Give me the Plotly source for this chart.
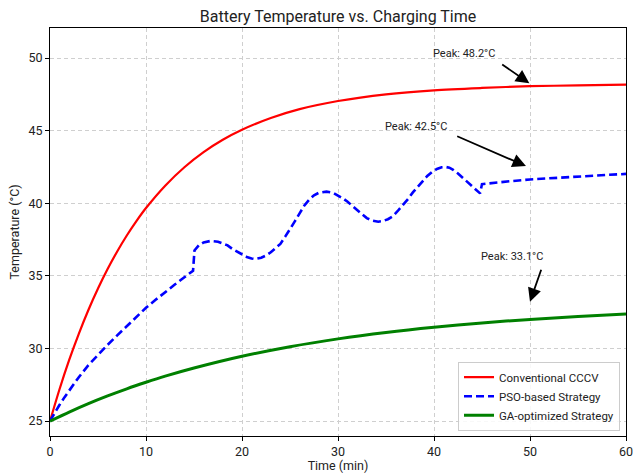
import plotly.graph_objects as go

# ---- data ----
red_t = [0, 1, 2, 3, 4, 5, 6, 7, 8, 9, 10, 12, 14, 16, 18, 20, 23, 26, 30, 35, 40, 45, 50, 55, 60]
red_T = [25.0, 27.21, 29.21, 31.01, 32.65, 34.13, 35.47, 36.68, 37.78, 38.77, 39.67, 41.21, 42.48,
         43.52, 44.37, 45.06, 45.87, 46.48, 47.04, 47.5, 47.78, 47.94, 48.06, 48.12, 48.17]

blue_t = [0, 0.5, 1, 1.5, 2, 3, 4, 5, 6, 7, 8, 9, 10, 11, 12, 13, 14, 14.9, 15.05, 15.5, 16, 16.7,
          17.5, 18, 18.5, 19, 19.5, 20, 20.5, 21, 21.35, 22, 22.5, 23, 23.5, 24, 24.5, 25, 25.5,
          26, 26.5, 27, 27.5, 28, 28.8, 29.5, 30, 30.5, 31, 31.5, 32, 32.5, 33, 33.5, 34.2, 34.7,
          35.2, 35.7, 36.2, 36.8, 37.3, 37.8, 38.3, 38.8, 39.3, 39.8, 40.3, 40.8, 41.2, 41.6, 42,
          42.5, 43, 43.5, 44, 44.4, 44.8, 45.0, 46, 47, 48, 50, 52, 54, 56, 58, 60]
blue_T = [25.0, 25.58, 26.12, 26.63, 27.1, 28.02, 28.85, 29.58, 30.25, 30.9, 31.53, 32.17, 32.8,
          33.35, 33.9, 34.4, 34.9, 35.35, 36.75, 37.1, 37.3, 37.4, 37.35, 37.25, 37.1, 36.85, 36.65,
          36.45, 36.3, 36.2, 36.16, 36.25, 36.4, 36.62, 36.9, 37.2, 37.7, 38.2, 38.75, 39.3, 39.85,
          40.25, 40.55, 40.72, 40.8, 40.72, 40.55, 40.34, 40.1, 39.8, 39.5, 39.25, 38.98, 38.82,
          38.73, 38.78, 38.9, 39.1, 39.45, 39.89, 40.3, 40.75, 41.14, 41.53, 41.88, 42.16, 42.36,
          42.48, 42.5, 42.45, 42.3, 42.05, 41.75, 41.45, 41.15, 40.9, 40.68, 41.32, 41.4, 41.46,
          41.52, 41.64, 41.73, 41.81, 41.88, 41.95, 42.02]

green_t = [0, 2, 4, 6, 8, 10, 12, 15, 20, 25, 30, 35, 40, 45, 50, 55, 60]
green_T = [25.0, 25.62, 26.2, 26.73, 27.22, 27.67, 28.09, 28.65, 29.46, 30.12, 30.66, 31.1,
           31.46, 31.76, 32.0, 32.2, 32.37]

series_names = ["Conventional CCCV", "PSO-based Strategy", "GA-optimized Strategy"]

peak_labels = ["Peak: 48.2°C", "Peak: 42.5°C", "Peak: 33.1°C"]
peak_x = [50, 50, 50]
peak_y = [48.2, 42.5, 33.1]
label_x = [40, 35, 45]
label_y = [50, 45, 36]

x_ticks = [0, 10, 20, 30, 40, 50, 60]
y_ticks = [25, 30, 35, 40, 45, 50]

FONT = "Roboto, 'Open Sans', sans-serif"

fig = go.Figure()
fig.add_trace(go.Scatter(x=red_t, y=red_T, mode="lines", name=series_names[0],
                         line=dict(color="#ff0000", width=2.2, shape="spline", smoothing=0.8)))
fig.add_trace(go.Scatter(x=blue_t, y=blue_T, mode="lines", name=series_names[1],
                         line=dict(color="#0000ff", width=2.6, dash="8px,4px")))
fig.add_trace(go.Scatter(x=green_t, y=green_T, mode="lines", name=series_names[2],
                         line=dict(color="#008000", width=3, shape="spline", smoothing=0.8)))

# arrow tails (layout positions, near the text boxes)
arrow_tail = [(46.95, 49.63), (42.26, 44.66), (51.22, 35.52)]
arrow_head_shift = [(-0.07, 0.06), (-0.42, 0.06), (0.0, 0.12)]

annotations = []
for i in range(3):
    annotations.append(dict(x=label_x[i], y=label_y[i], xref="x", yref="y", text=peak_labels[i],
                            showarrow=False, xanchor="left", yanchor="bottom",
                            font=dict(family=FONT, size=11, color="#222"), yshift=-4, xshift=-3))
    annotations.append(dict(x=peak_x[i] + arrow_head_shift[i][0], y=peak_y[i] + arrow_head_shift[i][1],
                            xref="x", yref="y",
                            ax=arrow_tail[i][0], ay=arrow_tail[i][1], axref="x", ayref="y",
                            text="", showarrow=True, arrowhead=2, arrowsize=1.5,
                            arrowwidth=1.8, arrowcolor="black", standoff=0, startstandoff=0))

axis_common = dict(showline=True, linecolor="black", linewidth=1, mirror=True,
                   ticks="outside", ticklen=4, tickcolor="black", tickwidth=1,
                   showgrid=True, gridcolor="#cfcfcf", griddash="4px,3px", gridwidth=1,
                   zeroline=False, automargin=False, ticklabeloverflow="allow",
                   tickfont=dict(family=FONT, size=12.5, color="#222"))

fig.update_layout(
    width=633, height=473,
    margin=dict(l=50, r=7, t=28, b=37),
    paper_bgcolor="white", plot_bgcolor="white",
    title=dict(text="Battery Temperature vs. Charging Time", x=(50 + 626) / 2 / 633, xanchor="center",
               y=1 - 16 / 473, yanchor="middle", font=dict(family=FONT, size=16, color="#222")),
    xaxis=dict(range=[0, 60], tickvals=x_ticks,
               title=dict(text="Time (min)", font=dict(family=FONT, size=12.5, color="#222"), standoff=0),
               **axis_common),
    yaxis=dict(range=[23.97, 52.07], tickvals=y_ticks,
               title=dict(text="Temperature (°C)", font=dict(family=FONT, size=12.5, color="#222"), standoff=6),
               **axis_common),
    legend=dict(x=0.9896, y=0.013, xanchor="right", yanchor="bottom",
                bgcolor="rgba(255,255,255,0.85)", bordercolor="#cccccc", borderwidth=1,
                font=dict(family=FONT, size=11.5, color="#222"), itemwidth=30, tracegroupgap=0),
    annotations=annotations,
    showlegend=True,
)

fig.write_html("out.html")
